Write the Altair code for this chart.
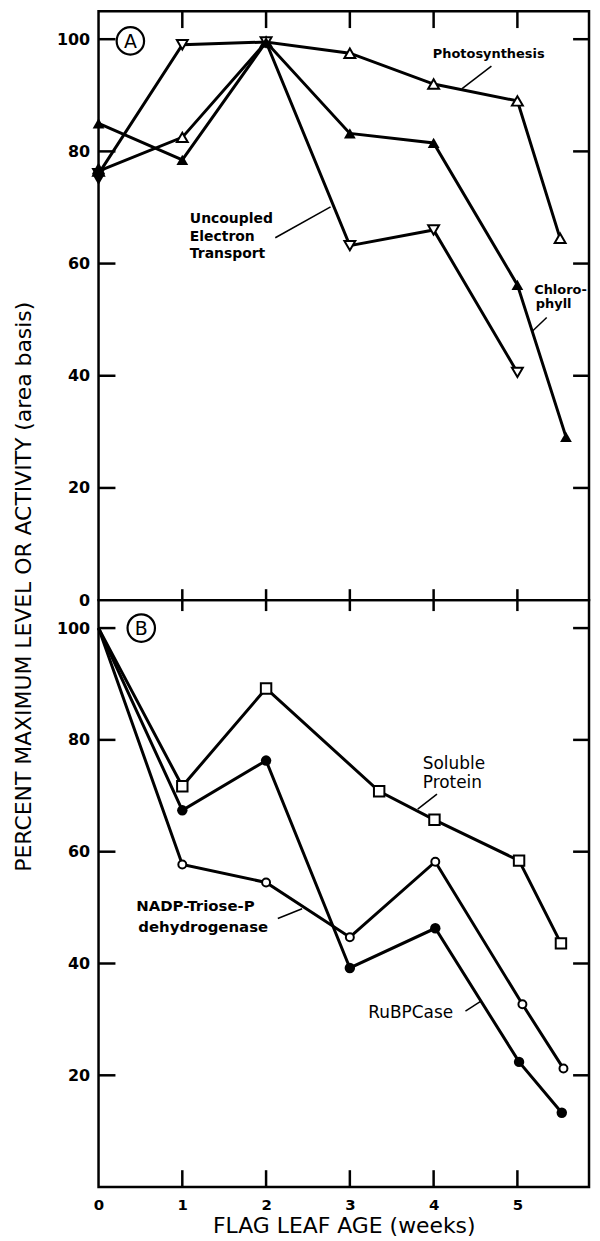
import altair as alt
import pandas as pd

# ---------------- data ----------------
# Panel A
photo_weeks = [0, 1, 2, 3, 4, 5, 5.51]
photo_vals = [76.5, 82.5, 99.5, 97.5, 92.0, 89.0, 64.5]
chl_weeks = [0, 1, 2, 3, 4, 5, 5.58]
chl_vals = [85.0, 78.5, 99.5, 83.2, 81.5, 56.2, 29.1]
uet_weeks = [0, 1, 2, 3, 4, 5]
uet_vals = [76.0, 99.0, 99.5, 63.2, 66.0, 40.6]

# Panel B
prot_weeks = [0, 1, 2, 3.35, 4.01, 5.02, 5.52]
prot_vals = [100, 71.7, 89.2, 70.8, 65.7, 58.4, 43.6]
rubp_weeks = [0, 1, 2, 3, 4.02, 5.02, 5.53]
rubp_vals = [100, 67.4, 76.3, 39.2, 46.3, 22.4, 13.3]
nadp_weeks = [0, 1, 2, 3, 4.02, 5.06, 5.55]
nadp_vals = [100, 57.7, 54.5, 44.7, 58.2, 32.7, 21.2]

y_labels_A = [0, 20, 40, 60, 80, 100]
y_labels_B = [20, 40, 60, 80, 100]
x_labels = [0, 1, 2, 3, 4, 5]
y_tick_vals = [20, 40, 60, 80, 100]
x_tick_vals = [1, 2, 3, 4, 5]

# annotations (data coordinates)
ann_A_bold13 = [(3.99, 97.4, "Photosynthesis"), (5.20, 55.3, "Chloro-"), (5.22, 52.7, "phyll")]
ann_A_bold14 = [(1.09, 67.9, "Uncoupled"), (1.09, 64.7, "Electron"), (1.09, 61.7, "Transport")]
lead_A = [(4.69, 95.2, 4.34, 91.2), (5.35, 50.4, 5.175, 47.9), (2.11, 64.6, 2.77, 70.1)]
circ_A = [(0.38, 99.7, "A")]

ann_B_reg = [(3.87, 75.6, "Soluble"), (3.87, 72.3, "Protein"), (3.22, 31.1, "RuBPCase")]
ann_B_bold = [(0.45, 50.2, "NADP-Triose-P"), (0.475, 46.6, "dehydrogenase")]
lead_B = [(4.04, 70.3, 3.81, 67.6), (2.14, 48.05, 2.43, 49.8), (4.38, 31.5, 4.57, 33.3)]
circ_B = [(0.51, 100.0, "B")]

# ---------------- styling ----------------
W, HA, HB = 493, 592, 590
XDOM = [0, 5.855]
YDOM = [0, 105]
FONT = "DejaVu Sans"


def xs():
    return alt.Scale(domain=XDOM, nice=False, zero=False)


def ys():
    return alt.Scale(domain=YDOM, nice=False, zero=False)


def sdf(name, weeks, vals):
    return pd.DataFrame({"week": weeks, "value": vals, "series": name})


dfA = pd.concat([sdf("Photosynthesis", photo_weeks, photo_vals),
                 sdf("Chlorophyll", chl_weeks, chl_vals),
                 sdf("Uncoupled", uet_weeks, uet_vals)], ignore_index=True)
dfB = pd.concat([sdf("Protein", prot_weeks, prot_vals),
                 sdf("RuBPCase", rubp_weeks, rubp_vals),
                 sdf("NADP", nadp_weeks, nadp_vals)], ignore_index=True)


class Panel:
    def __init__(self, xa, ya):
        self.xa = xa
        self.ya = ya

    def X(self, f):
        return alt.X(f, scale=xs(), axis=self.xa)

    def Y(self, f):
        return alt.Y(f, scale=ys(), axis=self.ya)

    def lines(self, df):
        return alt.Chart(df).mark_line(color="black", strokeWidth=3).encode(
            x=self.X("week:Q"), y=self.Y("value:Q"), detail="series:N")

    def pts(self, df, name, shape, filled, size, only_first=False, skip_first=False):
        base = alt.Chart(df).transform_filter(alt.datum.series == name)
        if only_first:
            base = base.transform_filter(alt.datum.week == 0)
        if skip_first:
            base = base.transform_filter(alt.datum.week > 0)
        if filled:
            m = base.mark_point(shape=shape, filled=True, color="black", opacity=1, size=size)
        else:
            m = base.mark_point(shape=shape, filled=False, fill="white", fillOpacity=1,
                                stroke="black", strokeWidth=2, opacity=1, size=size)
        return m.encode(x=self.X("week:Q"), y=self.Y("value:Q"))

    def hticks(self, vals, x0, x1):
        return alt.Chart(pd.DataFrame({"value": vals})).mark_rule(color="black", strokeWidth=2.5).encode(
            y=self.Y("value:Q"), x=alt.value(x0), x2=alt.value(x1))

    def vticks(self, vals, y0, y1):
        return alt.Chart(pd.DataFrame({"week": vals})).mark_rule(color="black", strokeWidth=2.5).encode(
            x=self.X("week:Q"), y=alt.value(y0), y2=alt.value(y1))

    def texts(self, rows, size, weight):
        df = pd.DataFrame(rows, columns=["week", "value", "t"])
        return alt.Chart(df).mark_text(align="left", baseline="middle", font=FONT, fontSize=size,
                                       fontWeight=weight, color="black").encode(
            x=self.X("week:Q"), y=self.Y("value:Q"), text="t:N")

    def leaders(self, rows):
        df = pd.DataFrame(rows, columns=["week", "value", "week2", "value2"])
        return alt.Chart(df).mark_rule(color="black", strokeWidth=1.5).encode(
            x=self.X("week:Q"), y=self.Y("value:Q"), x2="week2:Q", y2="value2:Q")

    def circled(self, rows):
        df = pd.DataFrame(rows, columns=["week", "value", "t"])
        ring = alt.Chart(df).mark_point(shape="circle", size=760, filled=False, stroke="black",
                                        strokeWidth=2.2, opacity=1).encode(
            x=self.X("week:Q"), y=self.Y("value:Q"))
        letter = alt.Chart(df).mark_text(font=FONT, fontSize=19, fontWeight="normal", color="black",
                                         baseline="middle", align="center", dy=1).encode(
            x=self.X("week:Q"), y=self.Y("value:Q"), text="t:N")
        return [ring, letter]


yaxisA = alt.Axis(values=y_labels_A, ticks=False, domain=False, grid=False, labelFont=FONT,
                  labelFontSize=16, labelFontWeight="bold", labelColor="black", labelPadding=9,
                  title="PERCENT MAXIMUM LEVEL OR ACTIVITY (area basis)", titleFont=FONT,
                  titleFontSize=22, titleFontWeight="normal", titleColor="black",
                  titleX=-75, titleY=578, titleAngle=270, titleAlign="center", titleBaseline="middle")
yaxisB = alt.Axis(values=y_labels_B, ticks=False, domain=False, grid=False, labelFont=FONT,
                  labelFontSize=16, labelFontWeight="bold", labelColor="black", labelPadding=9,
                  title=None)
xaxisB = alt.Axis(values=x_labels, ticks=False, domain=False, grid=False, labelFont=FONT,
                  labelFontSize=15, labelFontWeight="bold", labelColor="black", labelPadding=11,
                  labelFlush=False, format="d",
                  title="FLAG LEAF AGE (weeks)", titleFont=FONT, titleFontSize=22,
                  titleFontWeight="normal", titleColor="black", titlePadding=3)

diamond = "M0,-1.3L0.75,0L0,1.3L-0.75,0Z"

pa = Panel(None, yaxisA)
panelA = alt.layer(
    pa.lines(dfA),
    pa.pts(dfA, "Photosynthesis", "triangle-up", False, 120),
    pa.pts(dfA, "Uncoupled", "triangle-down", False, 120),
    pa.pts(dfA, "Chlorophyll", "triangle-up", True, 140),
    pa.pts(dfA, "Uncoupled", diamond, True, 300, only_first=True),
    pa.hticks(y_tick_vals, 0, 17),
    pa.hticks(y_tick_vals, W - 16, W),
    pa.vticks(x_tick_vals, 0, 17),
    pa.vticks(x_tick_vals, HA - 11, HA),
    pa.texts(ann_A_bold13, 13, "bold"),
    pa.texts(ann_A_bold14, 14, "bold"),
    pa.leaders(lead_A),
    *pa.circled(circ_A),
).properties(width=W, height=HA)

pb = Panel(xaxisB, yaxisB)
panelB = alt.layer(
    pb.lines(dfB),
    pb.pts(dfB, "Protein", "square", False, 110, skip_first=True),
    pb.pts(dfB, "NADP", "circle", False, 64, skip_first=True),
    pb.pts(dfB, "RuBPCase", "circle", True, 110, skip_first=True),
    pb.hticks(y_tick_vals, 0, 17),
    pb.hticks(y_tick_vals, W - 16, W),
    pb.vticks(x_tick_vals, 0, 11),
    pb.vticks(x_tick_vals, HB - 17, HB),
    pb.texts(ann_B_reg, 17, "normal"),
    pb.texts(ann_B_bold, 15, "bold"),
    pb.leaders(lead_B),
    *pb.circled(circ_B),
).properties(width=W, height=HB)

chart = alt.vconcat(panelA, panelB, spacing=0, bounds="flush").resolve_scale(
    x="independent", y="independent"
).configure_view(stroke="black", strokeWidth=2.5).properties(
    padding={"left": 3, "top": -3, "right": 0, "bottom": 0}, background="white"
)

chart.save("out.html", embed_options={"renderer": "svg", "actions": False})
